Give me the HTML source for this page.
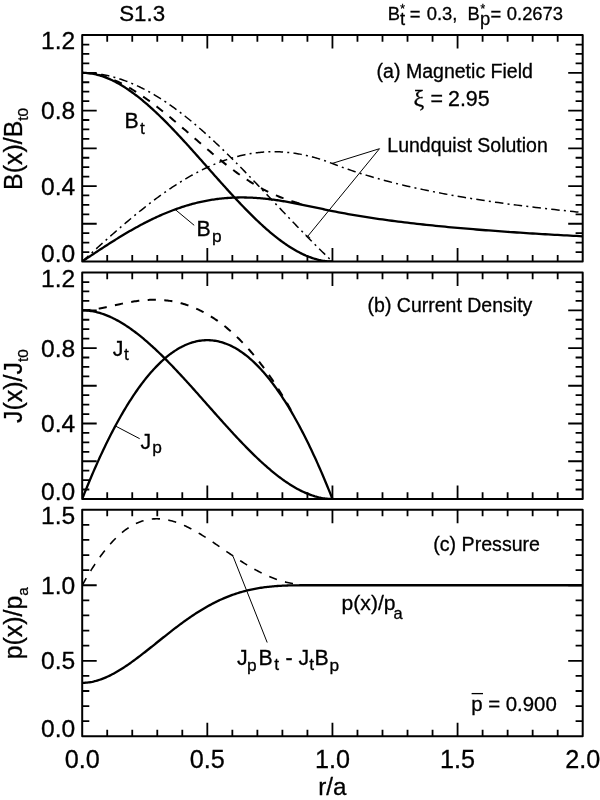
<!DOCTYPE html>
<html><head><meta charset="utf-8"><title>S1.3</title>
<style>
html,body{margin:0;padding:0;background:#fff;}
svg{display:block;}
text{font-family:"Liberation Sans",sans-serif;fill:#000;stroke:#000;stroke-width:0.3px;}
</style></head><body>
<svg width="600" height="800" viewBox="0 0 600 800">
<rect width="600" height="800" fill="#fff"/>
<defs>
<clipPath id="c0"><rect x="82.2" y="35.1" width="500.50000000000006" height="226.4"/></clipPath>
<clipPath id="c1"><rect x="82.2" y="272.6" width="500.50000000000006" height="226.34999999999997"/></clipPath>
<clipPath id="c2"><rect x="82.2" y="509.75" width="500.50000000000006" height="226.54999999999995"/></clipPath>
</defs>
<g clip-path="url(#c0)">
<path d="M82.20,261.50 L83.45,260.66 L84.70,259.82 L85.95,258.98 L87.20,258.14 L88.46,257.30 L89.71,256.46 L90.96,255.63 L92.21,254.79 L93.46,253.96 L94.71,253.13 L95.96,252.30 L97.22,251.47 L98.47,250.64 L99.72,249.82 L100.97,248.99 L102.22,248.18 L103.47,247.36 L104.72,246.55 L105.97,245.74 L107.23,244.93 L108.48,244.12 L109.73,243.32 L110.98,242.53 L112.23,241.74 L113.48,240.95 L114.73,240.16 L115.98,239.38 L117.24,238.61 L118.49,237.83 L119.74,237.07 L120.99,236.31 L122.24,235.55 L123.49,234.80 L124.74,234.05 L125.99,233.31 L127.25,232.57 L128.50,231.84 L129.75,231.11 L131.00,230.40 L132.25,229.68 L133.50,228.97 L134.75,228.27 L136.00,227.58 L137.25,226.89 L138.51,226.20 L139.76,225.53 L141.01,224.86 L142.26,224.20 L143.51,223.54 L144.76,222.89 L146.01,222.25 L147.26,221.61 L148.52,220.98 L149.77,220.36 L151.02,219.75 L152.27,219.14 L153.52,218.54 L154.77,217.95 L156.02,217.36 L157.28,216.79 L158.53,216.22 L159.78,215.66 L161.03,215.11 L162.28,214.56 L163.53,214.02 L164.78,213.49 L166.03,212.97 L167.29,212.46 L168.54,211.95 L169.79,211.46 L171.04,210.97 L172.29,210.49 L173.54,210.02 L174.79,209.55 L176.04,209.10 L177.30,208.65 L178.55,208.22 L179.80,207.79 L181.05,207.37 L182.30,206.95 L183.55,206.55 L184.80,206.16 L186.05,205.77 L187.31,205.39 L188.56,205.03 L189.81,204.67 L191.06,204.32 L192.31,203.97 L193.56,203.64 L194.81,203.32 L196.06,203.00 L197.31,202.70 L198.57,202.40 L199.82,202.11 L201.07,201.83 L202.32,201.56 L203.57,201.30 L204.82,201.04 L206.07,200.80 L207.32,200.56 L208.58,200.34 L209.83,200.12 L211.08,199.91 L212.33,199.71 L213.58,199.52 L214.83,199.33 L216.08,199.16 L217.34,198.99 L218.59,198.84 L219.84,198.69 L221.09,198.55 L222.34,198.42 L223.59,198.30 L224.84,198.18 L226.09,198.08 L227.34,197.98 L228.60,197.89 L229.85,197.81 L231.10,197.74 L232.35,197.68 L233.60,197.62 L234.85,197.57 L236.10,197.53 L237.36,197.50 L238.61,197.48 L239.86,197.46 L241.11,197.45 L242.36,197.45 L243.61,197.46 L244.86,197.48 L246.11,197.50 L247.37,197.53 L248.62,197.57 L249.87,197.61 L251.12,197.66 L252.37,197.72 L253.62,197.79 L254.87,197.86 L256.12,197.94 L257.38,198.03 L258.63,198.12 L259.88,198.22 L261.13,198.33 L262.38,198.44 L263.63,198.56 L264.88,198.69 L266.13,198.82 L267.38,198.96 L268.64,199.10 L269.89,199.25 L271.14,199.40 L272.39,199.57 L273.64,199.73 L274.89,199.90 L276.14,200.08 L277.39,200.26 L278.65,200.45 L279.90,200.64 L281.15,200.84 L282.40,201.04 L283.65,201.24 L284.90,201.45 L286.15,201.67 L287.41,201.88 L288.66,202.11 L289.91,202.33 L291.16,202.56 L292.41,202.79 L293.66,203.03 L294.91,203.27 L296.16,203.51 L297.42,203.75 L298.67,204.00 L299.92,204.25 L301.17,204.50 L302.42,204.76 L303.67,205.01 L304.92,205.27 L306.17,205.53 L307.43,205.79 L308.68,206.06 L309.93,206.32 L311.18,206.59 L312.43,206.85 L313.68,207.12 L314.93,207.39 L316.18,207.65 L317.44,207.92 L318.69,208.19 L319.94,208.46 L321.19,208.72 L322.44,208.99 L323.69,209.25 L324.94,209.52 L326.19,209.78 L327.44,210.04 L328.70,210.30 L329.95,210.56 L331.20,210.82 L332.45,211.07 L332.45,211.07 L335.58,211.69 L338.71,212.30 L341.83,212.89 L344.96,213.47 L348.09,214.04 L351.22,214.59 L354.35,215.13 L357.48,215.65 L360.60,216.17 L363.73,216.67 L366.86,217.17 L369.99,217.65 L373.12,218.12 L376.24,218.58 L379.37,219.03 L382.50,219.47 L385.63,219.91 L388.76,220.33 L391.88,220.75 L395.01,221.16 L398.14,221.55 L401.27,221.95 L404.40,222.33 L407.52,222.71 L410.65,223.08 L413.78,223.44 L416.91,223.79 L420.04,224.14 L423.17,224.49 L426.29,224.82 L429.42,225.15 L432.55,225.48 L435.68,225.80 L438.81,226.11 L441.93,226.42 L445.06,226.72 L448.19,227.02 L451.32,227.31 L454.45,227.60 L457.57,227.88 L460.70,228.16 L463.83,228.43 L466.96,228.70 L470.09,228.96 L473.22,229.22 L476.34,229.48 L479.47,229.73 L482.60,229.98 L485.73,230.23 L488.86,230.47 L491.98,230.70 L495.11,230.94 L498.24,231.17 L501.37,231.39 L504.50,231.62 L507.63,231.83 L510.75,232.05 L513.88,232.26 L517.01,232.48 L520.14,232.68 L523.27,232.89 L526.39,233.09 L529.52,233.29 L532.65,233.48 L535.78,233.68 L538.91,233.87 L542.03,234.05 L545.16,234.24 L548.29,234.42 L551.42,234.60 L554.55,234.78 L557.67,234.96 L560.80,235.13 L563.93,235.30 L567.06,235.47 L570.19,235.64 L573.32,235.80 L576.44,235.97 L579.57,236.13 L582.70,236.28" fill="none" stroke="#000" stroke-width="2.3" stroke-linejoin="round"/>
<path d="M82.20,72.83 L83.45,72.85 L84.70,72.89 L85.95,72.96 L87.20,73.06 L88.46,73.18 L89.71,73.33 L90.96,73.51 L92.21,73.71 L93.46,73.95 L94.71,74.20 L95.96,74.48 L97.22,74.79 L98.47,75.12 L99.72,75.48 L100.97,75.86 L102.22,76.26 L103.47,76.69 L104.72,77.14 L105.97,77.62 L107.23,78.12 L108.48,78.64 L109.73,79.18 L110.98,79.74 L112.23,80.33 L113.48,80.94 L114.73,81.57 L115.98,82.22 L117.24,82.89 L118.49,83.58 L119.74,84.29 L120.99,85.03 L122.24,85.78 L123.49,86.55 L124.74,87.34 L125.99,88.14 L127.25,88.97 L128.50,89.82 L129.75,90.68 L131.00,91.56 L132.25,92.45 L133.50,93.37 L134.75,94.30 L136.00,95.25 L137.25,96.21 L138.51,97.19 L139.76,98.18 L141.01,99.19 L142.26,100.22 L143.51,101.26 L144.76,102.31 L146.01,103.38 L147.26,104.46 L148.52,105.56 L149.77,106.67 L151.02,107.79 L152.27,108.92 L153.52,110.07 L154.77,111.23 L156.02,112.40 L157.28,113.59 L158.53,114.78 L159.78,115.98 L161.03,117.20 L162.28,118.43 L163.53,119.66 L164.78,120.91 L166.03,122.17 L167.29,123.43 L168.54,124.71 L169.79,125.99 L171.04,127.28 L172.29,128.58 L173.54,129.89 L174.79,131.21 L176.04,132.53 L177.30,133.86 L178.55,135.20 L179.80,136.54 L181.05,137.89 L182.30,139.24 L183.55,140.61 L184.80,141.97 L186.05,143.34 L187.31,144.72 L188.56,146.10 L189.81,147.49 L191.06,148.88 L192.31,150.27 L193.56,151.66 L194.81,153.06 L196.06,154.47 L197.31,155.87 L198.57,157.28 L199.82,158.69 L201.07,160.10 L202.32,161.51 L203.57,162.92 L204.82,164.34 L206.07,165.75 L207.32,167.17 L208.58,168.58 L209.83,170.00 L211.08,171.41 L212.33,172.82 L213.58,174.24 L214.83,175.65 L216.08,177.06 L217.34,178.46 L218.59,179.87 L219.84,181.27 L221.09,182.67 L222.34,184.07 L223.59,185.46 L224.84,186.85 L226.09,188.23 L227.34,189.61 L228.60,190.99 L229.85,192.36 L231.10,193.73 L232.35,195.09 L233.60,196.44 L234.85,197.79 L236.10,199.14 L237.36,200.47 L238.61,201.80 L239.86,203.13 L241.11,204.44 L242.36,205.75 L243.61,207.05 L244.86,208.34 L246.11,209.63 L247.37,210.90 L248.62,212.17 L249.87,213.42 L251.12,214.67 L252.37,215.91 L253.62,217.13 L254.87,218.35 L256.12,219.55 L257.38,220.75 L258.63,221.93 L259.88,223.10 L261.13,224.26 L262.38,225.41 L263.63,226.54 L264.88,227.67 L266.13,228.77 L267.38,229.87 L268.64,230.95 L269.89,232.02 L271.14,233.07 L272.39,234.11 L273.64,235.14 L274.89,236.15 L276.14,237.14 L277.39,238.12 L278.65,239.09 L279.90,240.03 L281.15,240.96 L282.40,241.88 L283.65,242.78 L284.90,243.66 L286.15,244.52 L287.41,245.36 L288.66,246.19 L289.91,247.00 L291.16,247.79 L292.41,248.56 L293.66,249.31 L294.91,250.04 L296.16,250.75 L297.42,251.44 L298.67,252.11 L299.92,252.76 L301.17,253.39 L302.42,254.00 L303.67,254.59 L304.92,255.15 L306.17,255.70 L307.43,256.22 L308.68,256.72 L309.93,257.19 L311.18,257.64 L312.43,258.07 L313.68,258.48 L314.93,258.86 L316.18,259.21 L317.44,259.54 L318.69,259.85 L319.94,260.13 L321.19,260.39 L322.44,260.62 L323.69,260.82 L324.94,261.00 L326.19,261.15 L327.44,261.28 L328.70,261.37 L329.95,261.44 L331.20,261.49 L332.45,261.50" fill="none" stroke="#000" stroke-width="2.3" stroke-linejoin="round"/>
<path d="M82.20,72.83 L83.45,72.85 L84.70,72.88 L85.95,72.94 L87.20,73.03 L88.46,73.13 L89.71,73.27 L90.96,73.42 L92.21,73.60 L93.46,73.79 L94.71,74.01 L95.96,74.26 L97.22,74.52 L98.47,74.80 L99.72,75.11 L100.97,75.44 L102.22,75.78 L103.47,76.15 L104.72,76.54 L105.97,76.94 L107.23,77.37 L108.48,77.81 L109.73,78.28 L110.98,78.76 L112.23,79.26 L113.48,79.77 L114.73,80.31 L115.98,80.86 L117.24,81.43 L118.49,82.02 L119.74,82.62 L120.99,83.24 L122.24,83.87 L123.49,84.52 L124.74,85.19 L125.99,85.87 L127.25,86.56 L128.50,87.27 L129.75,88.00 L131.00,88.73 L132.25,89.49 L133.50,90.25 L134.75,91.03 L136.00,91.82 L137.25,92.62 L138.51,93.44 L139.76,94.27 L141.01,95.11 L142.26,95.96 L143.51,96.82 L144.76,97.70 L146.01,98.58 L147.26,99.48 L148.52,100.38 L149.77,101.30 L151.02,102.22 L152.27,103.15 L153.52,104.10 L154.77,105.05 L156.02,106.01 L157.28,106.98 L158.53,107.95 L159.78,108.93 L161.03,109.93 L162.28,110.92 L163.53,111.93 L164.78,112.94 L166.03,113.96 L167.29,114.98 L168.54,116.01 L169.79,117.05 L171.04,118.09 L172.29,119.13 L173.54,120.18 L174.79,121.23 L176.04,122.29 L177.30,123.35 L178.55,124.42 L179.80,125.48 L181.05,126.55 L182.30,127.63 L183.55,128.70 L184.80,129.78 L186.05,130.86 L187.31,131.94 L188.56,133.02 L189.81,134.11 L191.06,135.19 L192.31,136.27 L193.56,137.36 L194.81,138.44 L196.06,139.52 L197.31,140.61 L198.57,141.69 L199.82,142.77 L201.07,143.84 L202.32,144.92 L203.57,145.99 L204.82,147.06 L206.07,148.13 L207.32,149.20 L208.58,150.26 L209.83,151.32 L211.08,152.37 L212.33,153.42 L213.58,154.46 L214.83,155.50 L216.08,156.54 L217.34,157.57 L218.59,158.59 L219.84,159.61 L221.09,160.62 L222.34,161.62 L223.59,162.62 L224.84,163.61 L226.09,164.60 L227.34,165.57 L228.60,166.54 L229.85,167.50 L231.10,168.45 L232.35,169.39 L233.60,170.32 L234.85,171.25 L236.10,172.16 L237.36,173.07 L238.61,173.96 L239.86,174.85 L241.11,175.72 L242.36,176.59 L243.61,177.44 L244.86,178.28 L246.11,179.12 L247.37,179.94 L248.62,180.74 L249.87,181.54 L251.12,182.33 L252.37,183.10 L253.62,183.86 L254.87,184.61 L256.12,185.35 L257.38,186.07 L258.63,186.78 L259.88,187.48 L261.13,188.17 L262.38,188.84 L263.63,189.51 L264.88,190.15 L266.13,190.79 L267.38,191.41 L268.64,192.02 L269.89,192.62 L271.14,193.21 L272.39,193.78 L273.64,194.34 L274.89,194.89 L276.14,195.43 L277.39,195.95 L278.65,196.46 L279.90,196.97 L281.15,197.45 L282.40,197.93 L283.65,198.40 L284.90,198.86 L286.15,199.30 L287.41,199.74 L288.66,200.16 L289.91,200.58 L291.16,200.98 L292.41,201.38 L293.66,201.77 L294.91,202.15 L296.16,202.52 L297.42,202.88 L298.67,203.24 L299.92,203.59 L301.17,203.93 L302.42,204.26 L303.67,204.59 L304.92,204.92 L306.17,205.23 L307.43,205.54" fill="none" stroke="#000" stroke-width="2.0" stroke-dasharray="8.2 8.4" stroke-linejoin="round"/>
<path d="M82.20,72.83 L83.45,72.84 L84.70,72.86 L85.95,72.89 L87.20,72.94 L88.46,73.00 L89.71,73.08 L90.96,73.17 L92.21,73.27 L93.46,73.39 L94.71,73.51 L95.96,73.66 L97.22,73.81 L98.47,73.98 L99.72,74.17 L100.97,74.36 L102.22,74.58 L103.47,74.80 L104.72,75.04 L105.97,75.29 L107.23,75.55 L108.48,75.83 L109.73,76.12 L110.98,76.42 L112.23,76.74 L113.48,77.07 L114.73,77.42 L115.98,77.77 L117.24,78.14 L118.49,78.53 L119.74,78.92 L120.99,79.33 L122.24,79.75 L123.49,80.19 L124.74,80.64 L125.99,81.10 L127.25,81.57 L128.50,82.06 L129.75,82.55 L131.00,83.07 L132.25,83.59 L133.50,84.13 L134.75,84.67 L136.00,85.23 L137.25,85.81 L138.51,86.39 L139.76,86.99 L141.01,87.60 L142.26,88.22 L143.51,88.86 L144.76,89.50 L146.01,90.16 L147.26,90.83 L148.52,91.51 L149.77,92.20 L151.02,92.91 L152.27,93.62 L153.52,94.35 L154.77,95.09 L156.02,95.84 L157.28,96.60 L158.53,97.37 L159.78,98.15 L161.03,98.95 L162.28,99.75 L163.53,100.57 L164.78,101.39 L166.03,102.23 L167.29,103.08 L168.54,103.93 L169.79,104.80 L171.04,105.68 L172.29,106.57 L173.54,107.47 L174.79,108.37 L176.04,109.29 L177.30,110.22 L178.55,111.16 L179.80,112.10 L181.05,113.06 L182.30,114.02 L183.55,115.00 L184.80,115.98 L186.05,116.97 L187.31,117.97 L188.56,118.98 L189.81,120.00 L191.06,121.03 L192.31,122.07 L193.56,123.11 L194.81,124.16 L196.06,125.22 L197.31,126.29 L198.57,127.37 L199.82,128.45 L201.07,129.54 L202.32,130.64 L203.57,131.75 L204.82,132.87 L206.07,133.99 L207.32,135.11 L208.58,136.25 L209.83,137.39 L211.08,138.54 L212.33,139.70 L213.58,140.86 L214.83,142.03 L216.08,143.20 L217.34,144.38 L218.59,145.57 L219.84,146.76 L221.09,147.96 L222.34,149.16 L223.59,150.37 L224.84,151.59 L226.09,152.81 L227.34,154.03 L228.60,155.26 L229.85,156.50 L231.10,157.74 L232.35,158.98 L233.60,160.23 L234.85,161.48 L236.10,162.74 L237.36,164.00 L238.61,165.26 L239.86,166.53 L241.11,167.81 L242.36,169.08 L243.61,170.36 L244.86,171.64 L246.11,172.93 L247.37,174.22 L248.62,175.51 L249.87,176.80 L251.12,178.10 L252.37,179.40 L253.62,180.70 L254.87,182.00 L256.12,183.31 L257.38,184.62 L258.63,185.93 L259.88,187.24 L261.13,188.55 L262.38,189.86 L263.63,191.18 L264.88,192.49 L266.13,193.81 L267.38,195.13 L268.64,196.45 L269.89,197.77 L271.14,199.09 L272.39,200.41 L273.64,201.73 L274.89,203.05 L276.14,204.37 L277.39,205.69 L278.65,207.01 L279.90,208.32 L281.15,209.64 L282.40,210.96 L283.65,212.28 L284.90,213.59 L286.15,214.91 L287.41,216.22 L288.66,217.53 L289.91,218.84 L291.16,220.15 L292.41,221.45 L293.66,222.76 L294.91,224.06 L296.16,225.36 L297.42,226.66 L298.67,227.95 L299.92,229.25 L301.17,230.54 L302.42,231.82 L303.67,233.11 L304.92,234.39 L306.17,235.66 L307.43,236.94 L308.68,238.21 L309.93,239.48 L311.18,240.74 L312.43,242.00 L313.68,243.25 L314.93,244.50 L316.18,245.75 L317.44,246.99 L318.69,248.23 L319.94,249.46 L321.19,250.69 L322.44,251.92 L323.69,253.14 L324.94,254.35 L326.19,255.56 L327.44,256.76 L328.70,257.96 L329.95,259.15 L331.20,260.34 L332.45,261.52" fill="none" stroke="#000" stroke-width="1.5" stroke-dasharray="8.5 4.2 2 4.2" stroke-linejoin="round"/>
<path d="M82.20,261.50 L83.45,260.37 L84.70,259.23 L85.95,258.10 L87.20,256.96 L88.46,255.83 L89.71,254.70 L90.96,253.57 L92.21,252.44 L93.46,251.31 L94.71,250.18 L95.96,249.05 L97.22,247.92 L98.47,246.80 L99.72,245.68 L100.97,244.55 L102.22,243.43 L103.47,242.32 L104.72,241.20 L105.97,240.09 L107.23,238.98 L108.48,237.87 L109.73,236.76 L110.98,235.66 L112.23,234.56 L113.48,233.46 L114.73,232.37 L115.98,231.27 L117.24,230.19 L118.49,229.10 L119.74,228.02 L120.99,226.94 L122.24,225.87 L123.49,224.80 L124.74,223.73 L125.99,222.67 L127.25,221.61 L128.50,220.56 L129.75,219.51 L131.00,218.47 L132.25,217.43 L133.50,216.39 L134.75,215.36 L136.00,214.33 L137.25,213.31 L138.51,212.30 L139.76,211.29 L141.01,210.29 L142.26,209.29 L143.51,208.29 L144.76,207.31 L146.01,206.33 L147.26,205.35 L148.52,204.38 L149.77,203.42 L151.02,202.46 L152.27,201.51 L153.52,200.57 L154.77,199.63 L156.02,198.70 L157.28,197.77 L158.53,196.85 L159.78,195.94 L161.03,195.04 L162.28,194.14 L163.53,193.26 L164.78,192.37 L166.03,191.50 L167.29,190.63 L168.54,189.77 L169.79,188.92 L171.04,188.08 L172.29,187.24 L173.54,186.42 L174.79,185.60 L176.04,184.78 L177.30,183.98 L178.55,183.19 L179.80,182.40 L181.05,181.62 L182.30,180.85 L183.55,180.09 L184.80,179.34 L186.05,178.60 L187.31,177.86 L188.56,177.13 L189.81,176.42 L191.06,175.71 L192.31,175.01 L193.56,174.32 L194.81,173.64 L196.06,172.97 L197.31,172.31 L198.57,171.66 L199.82,171.02 L201.07,170.38 L202.32,169.76 L203.57,169.15 L204.82,168.55 L206.07,167.95 L207.32,167.37 L208.58,166.80 L209.83,166.23 L211.08,165.68 L212.33,165.14 L213.58,164.60 L214.83,164.08 L216.08,163.57 L217.34,163.07 L218.59,162.57 L219.84,162.09 L221.09,161.62 L222.34,161.16 L223.59,160.71 L224.84,160.27 L226.09,159.84 L227.34,159.43 L228.60,159.02 L229.85,158.62 L231.10,158.24 L232.35,157.86 L233.60,157.50 L234.85,157.15 L236.10,156.80 L237.36,156.47 L238.61,156.15 L239.86,155.84 L241.11,155.55 L242.36,155.26 L243.61,154.98 L244.86,154.72 L246.11,154.47 L247.37,154.22 L248.62,153.99 L249.87,153.77 L251.12,153.56 L252.37,153.37 L253.62,153.18 L254.87,153.00 L256.12,152.84 L257.38,152.69 L258.63,152.54 L259.88,152.41 L261.13,152.30 L262.38,152.19 L263.63,152.09 L264.88,152.01 L266.13,151.93 L267.38,151.87 L268.64,151.82 L269.89,151.78 L271.14,151.75 L272.39,151.73 L273.64,151.72 L274.89,151.73 L276.14,151.74 L277.39,151.77 L278.65,151.81 L279.90,151.85 L281.15,151.91 L282.40,151.99 L283.65,152.07 L284.90,152.16 L286.15,152.27 L287.41,152.38 L288.66,152.51 L289.91,152.64 L291.16,152.79 L292.41,152.95 L293.66,153.12 L294.91,153.30 L296.16,153.49 L297.42,153.70 L298.67,153.91 L299.92,154.13 L301.17,154.37 L302.42,154.61 L303.67,154.87 L304.92,155.14 L306.17,155.41 L307.43,155.70 L308.68,156.00 L309.93,156.31 L311.18,156.62 L312.43,156.95 L313.68,157.29 L314.93,157.64 L316.18,158.00 L317.44,158.37 L318.69,158.75 L319.94,159.14 L321.19,159.54 L322.44,159.94 L323.69,160.36 L324.94,160.79 L326.19,161.23 L327.44,161.68 L328.70,162.13 L329.95,162.60 L331.20,163.08 L332.45,163.56 L332.45,163.56 L335.58,164.77 L338.71,165.95 L341.83,167.10 L344.96,168.23 L348.09,169.32 L351.22,170.39 L354.35,171.44 L357.48,172.46 L360.60,173.47 L363.73,174.44 L366.86,175.40 L369.99,176.34 L373.12,177.25 L376.24,178.15 L379.37,179.03 L382.50,179.88 L385.63,180.73 L388.76,181.55 L391.88,182.36 L395.01,183.15 L398.14,183.92 L401.27,184.69 L404.40,185.43 L407.52,186.16 L410.65,186.88 L413.78,187.58 L416.91,188.27 L420.04,188.95 L423.17,189.62 L426.29,190.27 L429.42,190.91 L432.55,191.54 L435.68,192.16 L438.81,192.77 L441.93,193.37 L445.06,193.96 L448.19,194.53 L451.32,195.10 L454.45,195.66 L457.57,196.21 L460.70,196.75 L463.83,197.28 L466.96,197.80 L470.09,198.31 L473.22,198.82 L476.34,199.32 L479.47,199.81 L482.60,200.29 L485.73,200.76 L488.86,201.23 L491.98,201.69 L495.11,202.14 L498.24,202.59 L501.37,203.03 L504.50,203.46 L507.63,203.89 L510.75,204.31 L513.88,204.72 L517.01,205.13 L520.14,205.54 L523.27,205.93 L526.39,206.32 L529.52,206.71 L532.65,207.09 L535.78,207.46 L538.91,207.83 L542.03,208.20 L545.16,208.56 L548.29,208.92 L551.42,209.27 L554.55,209.61 L557.67,209.95 L560.80,210.29 L563.93,210.62 L567.06,210.95 L570.19,211.28 L573.32,211.59 L576.44,211.91 L579.57,212.22 L582.70,212.53" fill="none" stroke="#000" stroke-width="1.5" stroke-dasharray="8.5 4.2 2 4.2" stroke-linejoin="round"/>
</g>
<g clip-path="url(#c1)">
<path d="M82.20,310.33 L83.45,310.34 L84.70,310.38 L85.95,310.45 L87.20,310.55 L88.46,310.67 L89.71,310.82 L90.96,311.00 L92.21,311.21 L93.46,311.44 L94.71,311.69 L95.96,311.97 L97.22,312.28 L98.47,312.61 L99.72,312.97 L100.97,313.35 L102.22,313.75 L103.47,314.18 L104.72,314.63 L105.97,315.11 L107.23,315.61 L108.48,316.13 L109.73,316.67 L110.98,317.23 L112.23,317.82 L113.48,318.43 L114.73,319.06 L115.98,319.71 L117.24,320.38 L118.49,321.07 L119.74,321.78 L120.99,322.52 L122.24,323.27 L123.49,324.04 L124.74,324.83 L125.99,325.63 L127.25,326.46 L128.50,327.30 L129.75,328.17 L131.00,329.05 L132.25,329.94 L133.50,330.86 L134.75,331.79 L136.00,332.73 L137.25,333.70 L138.51,334.68 L139.76,335.67 L141.01,336.68 L142.26,337.70 L143.51,338.74 L144.76,339.80 L146.01,340.87 L147.26,341.95 L148.52,343.04 L149.77,344.15 L151.02,345.27 L152.27,346.41 L153.52,347.56 L154.77,348.71 L156.02,349.89 L157.28,351.07 L158.53,352.26 L159.78,353.47 L161.03,354.68 L162.28,355.91 L163.53,357.15 L164.78,358.39 L166.03,359.65 L167.29,360.91 L168.54,362.19 L169.79,363.47 L171.04,364.76 L172.29,366.06 L173.54,367.37 L174.79,368.68 L176.04,370.01 L177.30,371.34 L178.55,372.67 L179.80,374.02 L181.05,375.37 L182.30,376.72 L183.55,378.08 L184.80,379.45 L186.05,380.82 L187.31,382.20 L188.56,383.58 L189.81,384.96 L191.06,386.35 L192.31,387.74 L193.56,389.14 L194.81,390.54 L196.06,391.94 L197.31,393.34 L198.57,394.75 L199.82,396.16 L201.07,397.57 L202.32,398.98 L203.57,400.39 L204.82,401.81 L206.07,403.22 L207.32,404.64 L208.58,406.05 L209.83,407.47 L211.08,408.88 L212.33,410.29 L213.58,411.71 L214.83,413.12 L216.08,414.52 L217.34,415.93 L218.59,417.34 L219.84,418.74 L221.09,420.14 L222.34,421.53 L223.59,422.92 L224.84,424.31 L226.09,425.70 L227.34,427.08 L228.60,428.46 L229.85,429.83 L231.10,431.19 L232.35,432.55 L233.60,433.91 L234.85,435.26 L236.10,436.60 L237.36,437.94 L238.61,439.27 L239.86,440.59 L241.11,441.91 L242.36,443.21 L243.61,444.51 L244.86,445.80 L246.11,447.09 L247.37,448.36 L248.62,449.63 L249.87,450.88 L251.12,452.13 L252.37,453.37 L253.62,454.59 L254.87,455.81 L256.12,457.01 L257.38,458.21 L258.63,459.39 L259.88,460.56 L261.13,461.72 L262.38,462.87 L263.63,464.00 L264.88,465.12 L266.13,466.23 L267.38,467.33 L268.64,468.41 L269.89,469.48 L271.14,470.53 L272.39,471.57 L273.64,472.60 L274.89,473.61 L276.14,474.60 L277.39,475.58 L278.65,476.54 L279.90,477.49 L281.15,478.42 L282.40,479.33 L283.65,480.23 L284.90,481.11 L286.15,481.97 L287.41,482.82 L288.66,483.64 L289.91,484.45 L291.16,485.24 L292.41,486.01 L293.66,486.76 L294.91,487.49 L296.16,488.20 L297.42,488.89 L298.67,489.57 L299.92,490.22 L301.17,490.85 L302.42,491.45 L303.67,492.04 L304.92,492.61 L306.17,493.15 L307.43,493.67 L308.68,494.17 L309.93,494.64 L311.18,495.09 L312.43,495.52 L313.68,495.93 L314.93,496.31 L316.18,496.66 L317.44,496.99 L318.69,497.30 L319.94,497.58 L321.19,497.84 L322.44,498.07 L323.69,498.27 L324.94,498.45 L326.19,498.60 L327.44,498.73 L328.70,498.82 L329.95,498.89 L331.20,498.94 L332.45,498.95" fill="none" stroke="#000" stroke-width="2.3" stroke-linejoin="round"/>
<path d="M82.20,498.95 L83.45,495.79 L84.70,492.66 L85.95,489.57 L87.20,486.50 L88.46,483.47 L89.71,480.47 L90.96,477.50 L92.21,474.56 L93.46,471.66 L94.71,468.78 L95.96,465.94 L97.22,463.13 L98.47,460.35 L99.72,457.60 L100.97,454.89 L102.22,452.21 L103.47,449.56 L104.72,446.94 L105.97,444.35 L107.23,441.79 L108.48,439.27 L109.73,436.77 L110.98,434.31 L112.23,431.88 L113.48,429.49 L114.73,427.12 L115.98,424.79 L117.24,422.48 L118.49,420.21 L119.74,417.97 L120.99,415.77 L122.24,413.59 L123.49,411.45 L124.74,409.34 L125.99,407.26 L127.25,405.21 L128.50,403.19 L129.75,401.21 L131.00,399.26 L132.25,397.33 L133.50,395.44 L134.75,393.59 L136.00,391.76 L137.25,389.97 L138.51,388.20 L139.76,386.47 L141.01,384.77 L142.26,383.11 L143.51,381.47 L144.76,379.87 L146.01,378.30 L147.26,376.76 L148.52,375.25 L149.77,373.77 L151.02,372.33 L152.27,370.91 L153.52,369.53 L154.77,368.18 L156.02,366.86 L157.28,365.58 L158.53,364.32 L159.78,363.10 L161.03,361.91 L162.28,360.75 L163.53,359.62 L164.78,358.53 L166.03,357.47 L167.29,356.43 L168.54,355.43 L169.79,354.46 L171.04,353.53 L172.29,352.62 L173.54,351.75 L174.79,350.91 L176.04,350.10 L177.30,349.32 L178.55,348.57 L179.80,347.86 L181.05,347.18 L182.30,346.53 L183.55,345.91 L184.80,345.32 L186.05,344.76 L187.31,344.24 L188.56,343.75 L189.81,343.29 L191.06,342.86 L192.31,342.46 L193.56,342.10 L194.81,341.76 L196.06,341.46 L197.31,341.19 L198.57,340.95 L199.82,340.75 L201.07,340.57 L202.32,340.43 L203.57,340.32 L204.82,340.24 L206.07,340.19 L207.32,340.17 L208.58,340.19 L209.83,340.24 L211.08,340.32 L212.33,340.43 L213.58,340.57 L214.83,340.75 L216.08,340.95 L217.34,341.19 L218.59,341.46 L219.84,341.76 L221.09,342.10 L222.34,342.46 L223.59,342.86 L224.84,343.29 L226.09,343.75 L227.34,344.24 L228.60,344.76 L229.85,345.32 L231.10,345.91 L232.35,346.53 L233.60,347.18 L234.85,347.86 L236.10,348.57 L237.36,349.32 L238.61,350.10 L239.86,350.91 L241.11,351.75 L242.36,352.62 L243.61,353.53 L244.86,354.46 L246.11,355.43 L247.37,356.43 L248.62,357.47 L249.87,358.53 L251.12,359.62 L252.37,360.75 L253.62,361.91 L254.87,363.10 L256.12,364.32 L257.38,365.58 L258.63,366.86 L259.88,368.18 L261.13,369.53 L262.38,370.91 L263.63,372.33 L264.88,373.77 L266.13,375.25 L267.38,376.76 L268.64,378.30 L269.89,379.87 L271.14,381.47 L272.39,383.11 L273.64,384.77 L274.89,386.47 L276.14,388.20 L277.39,389.97 L278.65,391.76 L279.90,393.59 L281.15,395.44 L282.40,397.33 L283.65,399.26 L284.90,401.21 L286.15,403.19 L287.41,405.21 L288.66,407.26 L289.91,409.34 L291.16,411.45 L292.41,413.59 L293.66,415.77 L294.91,417.97 L296.16,420.21 L297.42,422.48 L298.67,424.79 L299.92,427.12 L301.17,429.49 L302.42,431.88 L303.67,434.31 L304.92,436.77 L306.17,439.27 L307.43,441.79 L308.68,444.35 L309.93,446.94 L311.18,449.56 L312.43,452.21 L313.68,454.89 L314.93,457.60 L316.18,460.35 L317.44,463.13 L318.69,465.94 L319.94,468.78 L321.19,471.66 L322.44,474.56 L323.69,477.50 L324.94,480.47 L326.19,483.47 L327.44,486.50 L328.70,489.57 L329.95,492.66 L331.20,495.79 L332.45,498.95" fill="none" stroke="#000" stroke-width="2.3" stroke-linejoin="round"/>
<path d="M82.20,310.33 L83.45,310.31 L84.70,310.28 L85.95,310.22 L87.20,310.14 L88.46,310.04 L89.71,309.92 L90.96,309.78 L92.21,309.63 L93.46,309.46 L94.71,309.28 L95.96,309.08 L97.22,308.88 L98.47,308.66 L99.72,308.43 L100.97,308.19 L102.22,307.95 L103.47,307.69 L104.72,307.43 L105.97,307.17 L107.23,306.90 L108.48,306.63 L109.73,306.36 L110.98,306.08 L112.23,305.80 L113.48,305.53 L114.73,305.25 L115.98,304.97 L117.24,304.70 L118.49,304.43 L119.74,304.16 L120.99,303.89 L122.24,303.63 L123.49,303.37 L124.74,303.12 L125.99,302.87 L127.25,302.63 L128.50,302.40 L129.75,302.17 L131.00,301.96 L132.25,301.75 L133.50,301.54 L134.75,301.35 L136.00,301.17 L137.25,301.00 L138.51,300.83 L139.76,300.68 L141.01,300.54 L142.26,300.41 L143.51,300.29 L144.76,300.18 L146.01,300.08 L147.26,300.00 L148.52,299.93 L149.77,299.87 L151.02,299.83 L152.27,299.80 L153.52,299.78 L154.77,299.77 L156.02,299.78 L157.28,299.81 L158.53,299.85 L159.78,299.90 L161.03,299.97 L162.28,300.05 L163.53,300.15 L164.78,300.27 L166.03,300.40 L167.29,300.54 L168.54,300.70 L169.79,300.88 L171.04,301.08 L172.29,301.29 L173.54,301.51 L174.79,301.76 L176.04,302.02 L177.30,302.29 L178.55,302.59 L179.80,302.90 L181.05,303.23 L182.30,303.57 L183.55,303.93 L184.80,304.31 L186.05,304.71 L187.31,305.13 L188.56,305.56 L189.81,306.01 L191.06,306.48 L192.31,306.97 L193.56,307.48 L194.81,308.00 L196.06,308.55 L197.31,309.11 L198.57,309.69 L199.82,310.29 L201.07,310.90 L202.32,311.54 L203.57,312.20 L204.82,312.87 L206.07,313.56 L207.32,314.28 L208.58,315.01 L209.83,315.76 L211.08,316.53 L212.33,317.32 L213.58,318.13 L214.83,318.96 L216.08,319.81 L217.34,320.68 L218.59,321.57 L219.84,322.48 L221.09,323.41 L222.34,324.36 L223.59,325.33 L224.84,326.32 L226.09,327.33 L227.34,328.36 L228.60,329.41 L229.85,330.48 L231.10,331.58 L232.35,332.69 L233.60,333.83 L234.85,334.98 L236.10,336.16 L237.36,337.36 L238.61,338.58 L239.86,339.82 L241.11,341.08 L242.36,342.37 L243.61,343.67 L244.86,345.00 L246.11,346.35 L247.37,347.72 L248.62,349.11 L249.87,350.53 L251.12,351.97 L252.37,353.43 L253.62,354.91 L254.87,356.42 L256.12,357.94 L257.38,359.49 L258.63,361.07 L259.88,362.66 L261.13,364.28 L262.38,365.93 L263.63,367.59 L264.88,369.28 L266.13,370.99 L267.38,372.73 L268.64,374.49 L269.89,376.28 L271.14,378.08 L272.39,379.92 L273.64,381.77 L274.89,383.65 L276.14,385.56 L277.39,387.49 L278.65,389.44 L279.90,391.42 L281.15,393.43 L282.40,395.46 L283.65,397.51 L284.90,399.59 L286.15,401.70 L287.41,403.83 L288.66,405.99 L289.91,408.17 L291.16,410.38 L292.41,412.62 L293.66,414.88 L294.91,417.17" fill="none" stroke="#000" stroke-width="2.0" stroke-dasharray="8.2 8.4" stroke-linejoin="round"/>
</g>
<g clip-path="url(#c2)">
<path d="M82.20,682.83 L83.45,682.82 L84.70,682.77 L85.95,682.68 L87.20,682.57 L88.46,682.42 L89.71,682.25 L90.96,682.04 L92.21,681.80 L93.46,681.53 L94.71,681.23 L95.96,680.91 L97.22,680.55 L98.47,680.17 L99.72,679.76 L100.97,679.33 L102.22,678.87 L103.47,678.38 L104.72,677.87 L105.97,677.34 L107.23,676.78 L108.48,676.20 L109.73,675.60 L110.98,674.97 L112.23,674.33 L113.48,673.66 L114.73,672.98 L115.98,672.28 L117.24,671.55 L118.49,670.81 L119.74,670.06 L120.99,669.28 L122.24,668.49 L123.49,667.69 L124.74,666.87 L125.99,666.03 L127.25,665.19 L128.50,664.32 L129.75,663.45 L131.00,662.57 L132.25,661.67 L133.50,660.76 L134.75,659.85 L136.00,658.92 L137.25,657.98 L138.51,657.04 L139.76,656.09 L141.01,655.13 L142.26,654.17 L143.51,653.20 L144.76,652.22 L146.01,651.24 L147.26,650.25 L148.52,649.26 L149.77,648.27 L151.02,647.27 L152.27,646.28 L153.52,645.28 L154.77,644.27 L156.02,643.27 L157.28,642.27 L158.53,641.27 L159.78,640.27 L161.03,639.27 L162.28,638.27 L163.53,637.27 L164.78,636.28 L166.03,635.29 L167.29,634.30 L168.54,633.31 L169.79,632.33 L171.04,631.36 L172.29,630.39 L173.54,629.42 L174.79,628.46 L176.04,627.51 L177.30,626.56 L178.55,625.62 L179.80,624.69 L181.05,623.76 L182.30,622.84 L183.55,621.93 L184.80,621.03 L186.05,620.13 L187.31,619.25 L188.56,618.37 L189.81,617.51 L191.06,616.65 L192.31,615.81 L193.56,614.97 L194.81,614.14 L196.06,613.33 L197.31,612.53 L198.57,611.73 L199.82,610.95 L201.07,610.18 L202.32,609.42 L203.57,608.67 L204.82,607.94 L206.07,607.21 L207.32,606.50 L208.58,605.80 L209.83,605.12 L211.08,604.44 L212.33,603.78 L213.58,603.13 L214.83,602.49 L216.08,601.87 L217.34,601.26 L218.59,600.66 L219.84,600.08 L221.09,599.50 L222.34,598.94 L223.59,598.40 L224.84,597.86 L226.09,597.34 L227.34,596.84 L228.60,596.34 L229.85,595.86 L231.10,595.39 L232.35,594.94 L233.60,594.49 L234.85,594.06 L236.10,593.64 L237.36,593.24 L238.61,592.84 L239.86,592.46 L241.11,592.09 L242.36,591.74 L243.61,591.39 L244.86,591.06 L246.11,590.74 L247.37,590.43 L248.62,590.13 L249.87,589.85 L251.12,589.57 L252.37,589.30 L253.62,589.05 L254.87,588.81 L256.12,588.57 L257.38,588.35 L258.63,588.14 L259.88,587.94 L261.13,587.74 L262.38,587.56 L263.63,587.38 L264.88,587.22 L266.13,587.06 L267.38,586.91 L268.64,586.77 L269.89,586.64 L271.14,586.52 L272.39,586.40 L273.64,586.29 L274.89,586.19 L276.14,586.09 L277.39,586.00 L278.65,585.92 L279.90,585.85 L281.15,585.78 L282.40,585.71 L283.65,585.65 L284.90,585.60 L286.15,585.55 L287.41,585.51 L288.66,585.47 L289.91,585.43 L291.16,585.40 L292.41,585.37 L293.66,585.34 L294.91,585.32 L296.16,585.30 L297.42,585.29 L298.67,585.28 L299.92,585.27 L301.17,585.26 L302.42,585.25 L303.67,585.24 L304.92,585.24 L306.17,585.24 L307.43,585.24 L308.68,585.24 L309.93,585.24 L311.18,585.24 L312.43,585.24 L313.68,585.24 L314.93,585.25 L316.18,585.25 L317.44,585.25 L318.69,585.25 L319.94,585.26 L321.19,585.26 L322.44,585.26 L323.69,585.26 L324.94,585.26 L326.19,585.26 L327.44,585.27 L328.70,585.27 L329.95,585.27 L331.20,585.27 L332.45,585.27 L582.70,585.27" fill="none" stroke="#000" stroke-width="2.3" stroke-linejoin="round"/>
<path d="M82.20,585.27 L83.45,583.05 L84.70,580.86 L85.95,578.71 L87.20,576.59 L88.46,574.50 L89.71,572.45 L90.96,570.43 L92.21,568.44 L93.46,566.50 L94.71,564.58 L95.96,562.71 L97.22,560.87 L98.47,559.07 L99.72,557.31 L100.97,555.58 L102.22,553.90 L103.47,552.25 L104.72,550.64 L105.97,549.08 L107.23,547.55 L108.48,546.06 L109.73,544.61 L110.98,543.21 L112.23,541.84 L113.48,540.51 L114.73,539.23 L115.98,537.98 L117.24,536.78 L118.49,535.62 L119.74,534.49 L120.99,533.41 L122.24,532.37 L123.49,531.37 L124.74,530.41 L125.99,529.48 L127.25,528.60 L128.50,527.76 L129.75,526.96 L131.00,526.20 L132.25,525.48 L133.50,524.79 L134.75,524.15 L136.00,523.54 L137.25,522.97 L138.51,522.44 L139.76,521.95 L141.01,521.50 L142.26,521.08 L143.51,520.70 L144.76,520.35 L146.01,520.04 L147.26,519.77 L148.52,519.53 L149.77,519.33 L151.02,519.16 L152.27,519.02 L153.52,518.92 L154.77,518.85 L156.02,518.82 L157.28,518.81 L158.53,518.84 L159.78,518.90 L161.03,518.99 L162.28,519.10 L163.53,519.25 L164.78,519.43 L166.03,519.63 L167.29,519.87 L168.54,520.13 L169.79,520.41 L171.04,520.73 L172.29,521.07 L173.54,521.43 L174.79,521.82 L176.04,522.23 L177.30,522.67 L178.55,523.12 L179.80,523.60 L181.05,524.11 L182.30,524.63 L183.55,525.17 L184.80,525.73 L186.05,526.31 L187.31,526.91 L188.56,527.53 L189.81,528.17 L191.06,528.82 L192.31,529.48 L193.56,530.17 L194.81,530.86 L196.06,531.57 L197.31,532.30 L198.57,533.04 L199.82,533.78 L201.07,534.54 L202.32,535.32 L203.57,536.10 L204.82,536.89 L206.07,537.69 L207.32,538.50 L208.58,539.31 L209.83,540.13 L211.08,540.96 L212.33,541.80 L213.58,542.64 L214.83,543.48 L216.08,544.33 L217.34,545.18 L218.59,546.04 L219.84,546.89 L221.09,547.75 L222.34,548.61 L223.59,549.47 L224.84,550.33 L226.09,551.19 L227.34,552.05 L228.60,552.90 L229.85,553.75 L231.10,554.60 L232.35,555.45 L233.60,556.29 L234.85,557.13 L236.10,557.96 L237.36,558.78 L238.61,559.60 L239.86,560.42 L241.11,561.22 L242.36,562.02 L243.61,562.81 L244.86,563.59 L246.11,564.36 L247.37,565.13 L248.62,565.88 L249.87,566.62 L251.12,567.35 L252.37,568.07 L253.62,568.78 L254.87,569.48 L256.12,570.16 L257.38,570.83 L258.63,571.49 L259.88,572.13 L261.13,572.76 L262.38,573.38 L263.63,573.98 L264.88,574.57 L266.13,575.15 L267.38,575.70 L268.64,576.25 L269.89,576.78 L271.14,577.29 L272.39,577.78 L273.64,578.27 L274.89,578.73 L276.14,579.18 L277.39,579.61 L278.65,580.03 L279.90,580.42 L281.15,580.81 L282.40,581.17 L283.65,581.52 L284.90,581.86 L286.15,582.17 L287.41,582.48 L288.66,582.76 L289.91,583.03 L291.16,583.28 L292.41,583.52 L293.66,583.74 L294.91,583.95 L296.16,584.14 L297.42,584.31 L298.67,584.47 L299.92,584.62 L301.17,584.75 L302.42,584.87" fill="none" stroke="#000" stroke-width="1.6" stroke-dasharray="8.2 8.4" stroke-linejoin="round"/>
</g>
<rect x="82.2" y="35.1" width="500.50000000000006" height="226.4" fill="none" stroke="#000" stroke-width="2.0" stroke-linejoin="round"/>
<path d="M107.22,261.5 v-6.6 M107.22,35.1 v6.6 M132.25,261.5 v-6.6 M132.25,35.1 v6.6 M157.28,261.5 v-6.6 M157.28,35.1 v6.6 M182.30,261.5 v-6.6 M182.30,35.1 v6.6 M207.32,261.5 v-13.5 M207.32,35.1 v13.5 M232.35,261.5 v-6.6 M232.35,35.1 v6.6 M257.38,261.5 v-6.6 M257.38,35.1 v6.6 M282.40,261.5 v-6.6 M282.40,35.1 v6.6 M307.43,261.5 v-6.6 M307.43,35.1 v6.6 M332.45,261.5 v-13.5 M332.45,35.1 v13.5 M357.47,261.5 v-6.6 M357.47,35.1 v6.6 M382.50,261.5 v-6.6 M382.50,35.1 v6.6 M407.52,261.5 v-6.6 M407.52,35.1 v6.6 M432.55,261.5 v-6.6 M432.55,35.1 v6.6 M457.57,261.5 v-13.5 M457.57,35.1 v13.5 M482.60,261.5 v-6.6 M482.60,35.1 v6.6 M507.62,261.5 v-6.6 M507.62,35.1 v6.6 M532.65,261.5 v-6.6 M532.65,35.1 v6.6 M557.68,261.5 v-6.6 M557.68,35.1 v6.6 M82.2,252.07 h7.1 M582.7,252.07 h-7.1 M82.2,242.63 h7.1 M582.7,242.63 h-7.1 M82.2,233.20 h7.1 M582.7,233.20 h-7.1 M82.2,223.77 h14.5 M582.7,223.77 h-14.5 M82.2,214.33 h7.1 M582.7,214.33 h-7.1 M82.2,204.90 h7.1 M582.7,204.90 h-7.1 M82.2,195.47 h7.1 M582.7,195.47 h-7.1 M82.2,186.03 h14.5 M582.7,186.03 h-14.5 M82.2,176.60 h7.1 M582.7,176.60 h-7.1 M82.2,167.17 h7.1 M582.7,167.17 h-7.1 M82.2,157.73 h7.1 M582.7,157.73 h-7.1 M82.2,148.30 h14.5 M582.7,148.30 h-14.5 M82.2,138.87 h7.1 M582.7,138.87 h-7.1 M82.2,129.43 h7.1 M582.7,129.43 h-7.1 M82.2,120.00 h7.1 M582.7,120.00 h-7.1 M82.2,110.57 h14.5 M582.7,110.57 h-14.5 M82.2,101.13 h7.1 M582.7,101.13 h-7.1 M82.2,91.70 h7.1 M582.7,91.70 h-7.1 M82.2,82.27 h7.1 M582.7,82.27 h-7.1 M82.2,72.83 h14.5 M582.7,72.83 h-14.5 M82.2,63.40 h7.1 M582.7,63.40 h-7.1 M82.2,53.97 h7.1 M582.7,53.97 h-7.1 M82.2,44.53 h7.1 M582.7,44.53 h-7.1" stroke="#000" stroke-width="1.8" fill="none"/>
<rect x="82.2" y="272.6" width="500.50000000000006" height="226.34999999999997" fill="none" stroke="#000" stroke-width="2.0" stroke-linejoin="round"/>
<path d="M107.22,498.95 v-6.6 M107.22,272.6 v6.6 M132.25,498.95 v-6.6 M132.25,272.6 v6.6 M157.28,498.95 v-6.6 M157.28,272.6 v6.6 M182.30,498.95 v-6.6 M182.30,272.6 v6.6 M207.32,498.95 v-13.5 M207.32,272.6 v13.5 M232.35,498.95 v-6.6 M232.35,272.6 v6.6 M257.38,498.95 v-6.6 M257.38,272.6 v6.6 M282.40,498.95 v-6.6 M282.40,272.6 v6.6 M307.43,498.95 v-6.6 M307.43,272.6 v6.6 M332.45,498.95 v-13.5 M332.45,272.6 v13.5 M357.47,498.95 v-6.6 M357.47,272.6 v6.6 M382.50,498.95 v-6.6 M382.50,272.6 v6.6 M407.52,498.95 v-6.6 M407.52,272.6 v6.6 M432.55,498.95 v-6.6 M432.55,272.6 v6.6 M457.57,498.95 v-13.5 M457.57,272.6 v13.5 M482.60,498.95 v-6.6 M482.60,272.6 v6.6 M507.62,498.95 v-6.6 M507.62,272.6 v6.6 M532.65,498.95 v-6.6 M532.65,272.6 v6.6 M557.68,498.95 v-6.6 M557.68,272.6 v6.6 M82.2,489.52 h7.1 M582.7,489.52 h-7.1 M82.2,480.09 h7.1 M582.7,480.09 h-7.1 M82.2,470.66 h7.1 M582.7,470.66 h-7.1 M82.2,461.23 h14.5 M582.7,461.23 h-14.5 M82.2,451.79 h7.1 M582.7,451.79 h-7.1 M82.2,442.36 h7.1 M582.7,442.36 h-7.1 M82.2,432.93 h7.1 M582.7,432.93 h-7.1 M82.2,423.50 h14.5 M582.7,423.50 h-14.5 M82.2,414.07 h7.1 M582.7,414.07 h-7.1 M82.2,404.64 h7.1 M582.7,404.64 h-7.1 M82.2,395.21 h7.1 M582.7,395.21 h-7.1 M82.2,385.77 h14.5 M582.7,385.77 h-14.5 M82.2,376.34 h7.1 M582.7,376.34 h-7.1 M82.2,366.91 h7.1 M582.7,366.91 h-7.1 M82.2,357.48 h7.1 M582.7,357.48 h-7.1 M82.2,348.05 h14.5 M582.7,348.05 h-14.5 M82.2,338.62 h7.1 M582.7,338.62 h-7.1 M82.2,329.19 h7.1 M582.7,329.19 h-7.1 M82.2,319.76 h7.1 M582.7,319.76 h-7.1 M82.2,310.33 h14.5 M582.7,310.33 h-14.5 M82.2,300.89 h7.1 M582.7,300.89 h-7.1 M82.2,291.46 h7.1 M582.7,291.46 h-7.1 M82.2,282.03 h7.1 M582.7,282.03 h-7.1" stroke="#000" stroke-width="1.8" fill="none"/>
<rect x="82.2" y="509.75" width="500.50000000000006" height="226.54999999999995" fill="none" stroke="#000" stroke-width="2.0" stroke-linejoin="round"/>
<path d="M107.22,736.3 v-6.6 M107.22,509.75 v6.6 M132.25,736.3 v-6.6 M132.25,509.75 v6.6 M157.28,736.3 v-6.6 M157.28,509.75 v6.6 M182.30,736.3 v-6.6 M182.30,509.75 v6.6 M207.32,736.3 v-13.5 M207.32,509.75 v13.5 M232.35,736.3 v-6.6 M232.35,509.75 v6.6 M257.38,736.3 v-6.6 M257.38,509.75 v6.6 M282.40,736.3 v-6.6 M282.40,509.75 v6.6 M307.43,736.3 v-6.6 M307.43,509.75 v6.6 M332.45,736.3 v-13.5 M332.45,509.75 v13.5 M357.47,736.3 v-6.6 M357.47,509.75 v6.6 M382.50,736.3 v-6.6 M382.50,509.75 v6.6 M407.52,736.3 v-6.6 M407.52,509.75 v6.6 M432.55,736.3 v-6.6 M432.55,509.75 v6.6 M457.57,736.3 v-13.5 M457.57,509.75 v13.5 M482.60,736.3 v-6.6 M482.60,509.75 v6.6 M507.62,736.3 v-6.6 M507.62,509.75 v6.6 M532.65,736.3 v-6.6 M532.65,509.75 v6.6 M557.68,736.3 v-6.6 M557.68,509.75 v6.6 M82.2,721.20 h7.1 M582.7,721.20 h-7.1 M82.2,706.09 h7.1 M582.7,706.09 h-7.1 M82.2,690.99 h7.1 M582.7,690.99 h-7.1 M82.2,675.89 h7.1 M582.7,675.89 h-7.1 M82.2,660.78 h14.5 M582.7,660.78 h-14.5 M82.2,645.68 h7.1 M582.7,645.68 h-7.1 M82.2,630.58 h7.1 M582.7,630.58 h-7.1 M82.2,615.47 h7.1 M582.7,615.47 h-7.1 M82.2,600.37 h7.1 M582.7,600.37 h-7.1 M82.2,585.27 h14.5 M582.7,585.27 h-14.5 M82.2,570.16 h7.1 M582.7,570.16 h-7.1 M82.2,555.06 h7.1 M582.7,555.06 h-7.1 M82.2,539.96 h7.1 M582.7,539.96 h-7.1 M82.2,524.85 h7.1 M582.7,524.85 h-7.1" stroke="#000" stroke-width="1.8" fill="none"/>
<text x="75.3" y="262.1" font-size="24.6" text-anchor="end">0.0</text>
<text x="75.3" y="194.6" font-size="24.6" text-anchor="end">0.4</text>
<text x="75.3" y="119.2" font-size="24.6" text-anchor="end">0.8</text>
<text x="75.3" y="49.4" font-size="24.6" text-anchor="end">1.2</text>
<text x="75.3" y="499.6" font-size="24.6" text-anchor="end">0.0</text>
<text x="75.3" y="432.1" font-size="24.6" text-anchor="end">0.4</text>
<text x="75.3" y="356.6" font-size="24.6" text-anchor="end">0.8</text>
<text x="75.3" y="286.9" font-size="24.6" text-anchor="end">1.2</text>
<text x="75.3" y="736.9" font-size="24.6" text-anchor="end">0.0</text>
<text x="75.3" y="669.4" font-size="24.6" text-anchor="end">0.5</text>
<text x="75.3" y="593.9" font-size="24.6" text-anchor="end">1.0</text>
<text x="75.3" y="524.0" font-size="24.6" text-anchor="end">1.5</text>
<text x="82.2" y="767.6" font-size="25.2" text-anchor="middle">0.0</text>
<text x="207.3" y="767.6" font-size="25.2" text-anchor="middle">0.5</text>
<text x="332.4" y="767.6" font-size="25.2" text-anchor="middle">1.0</text>
<text x="457.6" y="767.6" font-size="25.2" text-anchor="middle">1.5</text>
<text x="582.7" y="767.6" font-size="25.2" text-anchor="middle">2.0</text>
<text x="332.3" y="794.6" font-size="24.2" text-anchor="middle">r/a</text>
<text transform="translate(21.9,148.9) rotate(-90)" font-size="24.9" text-anchor="middle">B(x)/B<tspan font-size="15.4" dy="5.6">t0</tspan></text>
<text transform="translate(21.9,386.1) rotate(-90)" font-size="24.9" text-anchor="middle">J(x)/J<tspan font-size="15.4" dy="5.6">t0</tspan></text>
<text transform="translate(21.9,623.2) rotate(-90)" font-size="24.9" text-anchor="middle">p(x)/p<tspan font-size="15.4" dy="5.6">a</tspan></text>
<text x="119.2" y="21.0" font-size="22.3" text-anchor="start">S1.3</text>
<text y="20.4" font-size="18.4"><tspan x="387.8">B</tspan><tspan x="400.0" dy="5">t</tspan><tspan x="409.7" dy="-5">=</tspan><tspan x="426.7">0.3,</tspan><tspan x="467.5">B</tspan><tspan x="480" dy="5">p</tspan><tspan x="490.6" dy="-5">=</tspan><tspan x="506.8">0.2673</tspan></text>
<text x="400.2" y="12.8" font-size="12">*</text>
<text x="480.5" y="12.8" font-size="12">*</text>
<text x="376.6" y="78.3" font-size="19.55" text-anchor="start">(a) Magnetic Field</text>
<text y="106.4" font-size="21.4"><tspan x="413.6" font-family="'Liberation Serif', 'DejaVu Serif', serif" font-size="24">ξ</tspan><tspan x="430.5">=</tspan><tspan x="448">2.95</tspan></text>
<text x="387.3" y="151.7" font-size="19.5" text-anchor="start">Lundquist Solution</text>
<text><tspan x="124.4" y="127.7" font-size="21.3">B</tspan><tspan x="140.0" y="134.2" font-size="17.3">t</tspan></text>
<text><tspan x="196.6" y="236.1" font-size="21.3">B</tspan><tspan x="211.9" y="241.7" font-size="17.3">p</tspan></text>
<text x="367.6" y="312.3" font-size="19.5" text-anchor="start">(b) Current Density</text>
<text><tspan x="112.8" y="355.6" font-size="21.3">J</tspan><tspan x="123.9" y="359.6" font-size="17.3">t</tspan></text>
<text><tspan x="140.6" y="449.1" font-size="21.3">J</tspan><tspan x="152.3" y="453.0" font-size="17.3">p</tspan></text>
<text x="433.3" y="551.0" font-size="19.6" text-anchor="start">(c) Pressure</text>
<text><tspan x="341.6" y="609.6" font-size="21.1">p(x)/p</tspan><tspan x="393.4" y="618.6" font-size="16.4">a</tspan></text>
<text><tspan x="236.9" y="665.0" font-size="21.3">J</tspan><tspan x="247.0" y="671.0" font-size="17.3">p</tspan><tspan x="258.6" y="665.0" font-size="21.3">B</tspan><tspan x="274.2" y="670.4" font-size="17.3">t</tspan><tspan x="285.4" y="665.0" font-size="21.3">-</tspan><tspan x="298.4" y="665.0" font-size="21.3">J</tspan><tspan x="309.2" y="670.4" font-size="17.3">t</tspan><tspan x="314.6" y="665.0" font-size="21.3">B</tspan><tspan x="329.6" y="671.0" font-size="17.3">p</tspan></text>
<text x="471.2" y="711.0" font-size="20.4" text-anchor="start">p = 0.900</text>
<path d="M471.6,693.6 H483" stroke="#000" stroke-width="1.3"/>
<path d="M379.5,148.7 L332.3,163.4 M379.5,148.7 L307.8,236.2 M305.5,234.8 L310.2,237.8 M175.8,210 L194.2,225.3 M115.8,426.2 L139.7,438.7 M233,556.2 L267.2,642.5" stroke="#000" stroke-width="1.0" fill="none"/>
</svg>
</body></html>
